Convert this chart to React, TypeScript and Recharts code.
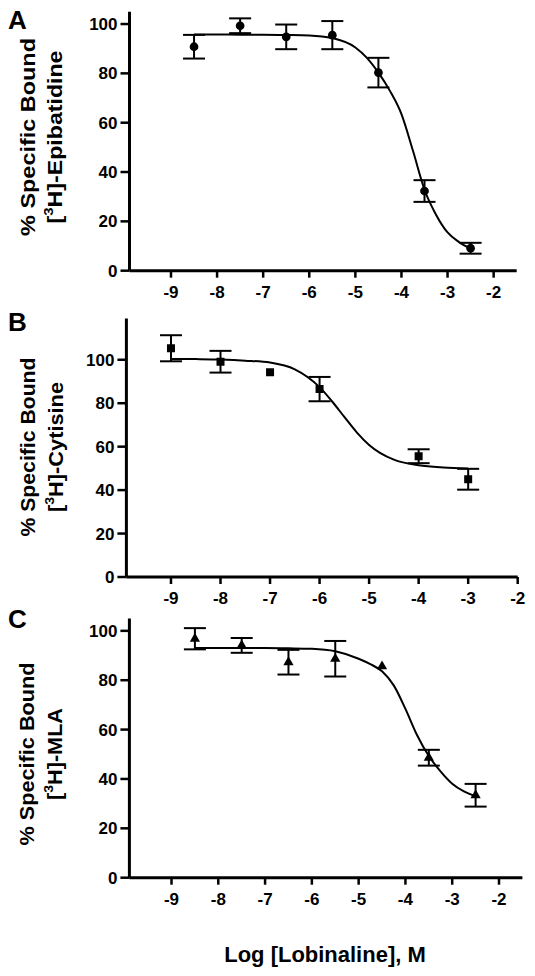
import React from "react";
import {
  ComposedChart,
  Line,
  Scatter,
  ErrorBar,
  XAxis,
  YAxis,
  ZAxis
} from "recharts";

const xTicks = [-9, -8, -7, -6, -5, -4, -3, -2];
const yTicks = [0, 20, 40, 60, 80, 100];

// A: [3H]-Epibatidine
const logConcA = [-8.5, -7.5, -6.5, -5.5, -4.5, -3.5, -2.5];
const boundA = [90.8, 99.3, 94.8, 95.5, 80.3, 32.3, 9.1];
const semA = [4.8, 3, 5, 5.7, 6, 4.4, 2.2];
const fitXA = [-8.5, -8, -7.5, -7, -6.5, -6, -5.5, -5, -4.75, -4.5, -4.25, -4, -3.75, -3.5, -3.25, -3, -2.75, -2.5];
const fitYA = [95.8, 95.8, 95.7, 95.7, 95.6, 95.4, 94.3, 90.5, 86.3, 80.3, 72.9, 63.5, 48.6, 32.8, 22.7, 15.5, 11.6, 9.0];

// B: [3H]-Cytisine
const logConcB = [-9, -8, -7, -6, -4, -3];
const boundB = [105.3, 99.1, 94.2, 86.5, 55.6, 45.0];
const semB = [6, 5, null, 5.6, 3.2, 4.8];
const fitXB = [-9, -8.5, -8, -7.5, -7, -6.5, -6, -5.75, -5.5, -5.25, -5, -4.5, -4, -3.5, -3];
const fitYB = [100.4, 100.3, 100.1, 99.6, 98.7, 95.6, 87.4, 80.9, 73.7, 66.6, 60.8, 54.0, 51.4, 50.4, 50.0];

// C: [3H]-MLA
const logConcC = [-8.5, -7.5, -6.5, -5.5, -4.5, -3.5, -2.5];
const boundC = [96.8, 94.1, 87.3, 88.7, 85.6, 48.6, 33.4];
const semC = [4.3, 3, 5, 7.2, null, 3.2, 4.6];
const fitXC = [-8.5, -8, -7.5, -7, -6.5, -6, -5.5, -5, -4.75, -4.5, -4.25, -4, -3.75, -3.5, -3.25, -3, -2.75, -2.5];
const fitYC = [93.0, 93.0, 93.0, 93.0, 92.9, 92.7, 91.7, 88.7, 86.5, 83.6, 77.9, 68.4, 57.7, 49.3, 43.1, 38.1, 35.0, 33.0];

const FONT = "'Liberation Sans', Arial, Helvetica, sans-serif";

const toPoints = (xs: number[], ys: number[], errs: (number | null)[]) =>
  xs.map((x, i) => ({ x, y: ys[i], err: errs[i] }));

const toCurve = (xs: number[], ys: number[]) => xs.map((x, i) => ({ x, y: ys[i] }));

const tickStyle = { fill: "#000", fontSize: 17, fontWeight: "bold", fontFamily: FONT };

interface PanelProps {
  top: number;
  height: number;
  plotTop: number;
  plotLeft: number;
  right: number;
  xAxisHeight: number;
  xDomain: [number, number];
  yMax: number;
  points: { x: number; y: number; err: number | null }[];
  curve: { x: number; y: number }[];
  shape: "circle" | "square" | "triangle";
  symbolSize: number;
  letter: string;
  letterY: number;
  titleY: number;
  ligand: string;
  len1: number;
  len2: number;
  xTitle?: boolean;
}

const Panel = (p: PanelProps) => {
  const yTitle = () => (
    <g>
      <text x={8} y={p.letterY} fontSize={26} fontWeight="bold" fontFamily={FONT} fill="#000">
        {p.letter}
      </text>
      <text
        x={27.5}
        y={p.titleY}
        transform={`rotate(-90, 27.5, ${p.titleY})`}
        textAnchor="middle"
        dominantBaseline="central"
        fontSize={20}
        fontWeight="bold"
        fontFamily={FONT}
        fill="#000"
        textLength={p.len1}
        lengthAdjust="spacingAndGlyphs"
      >
        % Specific Bound
      </text>
      <text
        x={55.5}
        y={p.titleY}
        transform={`rotate(-90, 55.5, ${p.titleY})`}
        textAnchor="middle"
        dominantBaseline="central"
        fontSize={20}
        fontWeight="bold"
        fontFamily={FONT}
        fill="#000"
        textLength={p.len2}
        lengthAdjust="spacingAndGlyphs"
      >
        [<tspan fontSize={13} dy={-7}>3</tspan>
        <tspan dy={7}>H]-{p.ligand}</tspan>
      </text>
    </g>
  );

  const xTitle = () => (
    <text x={325} y={362} textAnchor="middle" fontSize={22} fontWeight="bold" fontFamily={FONT} fill="#000">
      Log [Lobinaline], M
    </text>
  );

  return (
    <div style={{ position: "absolute", left: 0, top: p.top }}>
      <ComposedChart
        width={535}
        height={p.height}
        margin={{ top: p.plotTop, right: p.right, bottom: 0, left: p.plotLeft - 60 }}
      >
        <XAxis
          type="number"
          dataKey="x"
          domain={p.xDomain}
          ticks={xTicks}
          allowDataOverflow
          height={p.xAxisHeight}
          axisLine={{ stroke: "#000", strokeWidth: 3 }}
          tickLine={{ stroke: "#000", strokeWidth: 2.5 }}
          tickSize={7}
          tickMargin={8}
          tick={tickStyle}
          label={p.xTitle ? { content: xTitle } : undefined}
        />
        <YAxis
          type="number"
          domain={[0, p.yMax]}
          ticks={yTicks}
          allowDataOverflow
          width={60}
          axisLine={{ stroke: "#000", strokeWidth: 3 }}
          tickLine={{ stroke: "#000", strokeWidth: 2.5 }}
          tickSize={9}
          tickMargin={3}
          tick={tickStyle}
          label={{ content: yTitle }}
        />
        <ZAxis range={[p.symbolSize, p.symbolSize]} />
        <Line
          data={p.curve}
          dataKey="y"
          type="monotone"
          stroke="#000"
          strokeWidth={2}
          dot={false}
          isAnimationActive={false}
        />
        <Scatter data={p.points} dataKey="y" shape={p.shape} fill="#000" isAnimationActive={false}>
          <ErrorBar dataKey="err" direction="y" width={11} stroke="#000" strokeWidth={2} />
        </Scatter>
      </ComposedChart>
    </div>
  );
};

export default function App() {
  return (
    <div
      style={{
        position: "absolute",
        left: 0,
        top: 0,
        width: 535,
        height: 976,
        overflow: "hidden",
        background: "#fff"
      }}
    >
      <Panel
        top={0}
        height={300.7}
        plotTop={11.7}
        plotLeft={129.5}
        right={18.3}
        xAxisHeight={30}
        xDomain={[-9.9, -1.5]}
        yMax={105}
        points={toPoints(logConcA, boundA, semA)}
        curve={toCurve(fitXA, fitYA)}
        shape="circle"
        symbolSize={60}
        letter="A"
        letterY={29}
        titleY={137}
        ligand="Epibatidine"
        len1={198}
        len2={173}
      />
      <Panel
        top={300}
        height={307}
        plotTop={18.5}
        plotLeft={126.4}
        right={17.3}
        xAxisHeight={30}
        xDomain={[-9.9, -2]}
        yMax={119}
        points={toPoints(logConcB, boundB, semB)}
        curve={toCurve(fitXB, fitYB)}
        shape="square"
        symbolSize={64}
        letter="B"
        letterY={31}
        titleY={147}
        ligand="Cytisine"
        len1={179}
        len2={130}
      />
      <Panel
        top={600}
        height={372.7}
        plotTop={18.5}
        plotLeft={129.4}
        right={12.6}
        xAxisHeight={95}
        xDomain={[-9.9, -1.5]}
        yMax={105}
        points={toPoints(logConcC, boundC, semC)}
        curve={toCurve(fitXC, fitYC)}
        shape="triangle"
        symbolSize={45}
        letter="C"
        letterY={28}
        titleY={154}
        ligand="MLA"
        len1={183}
        len2={92}
        xTitle
      />
    </div>
  );
}
